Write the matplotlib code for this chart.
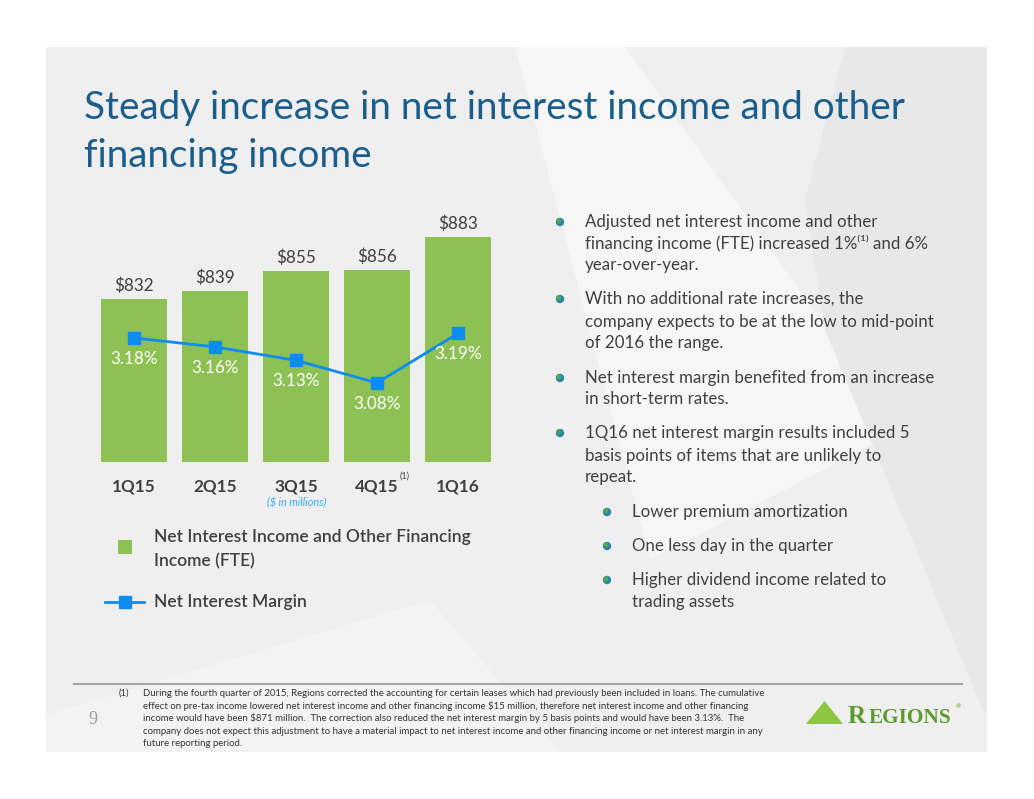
import matplotlib
matplotlib.use('Agg')
import matplotlib.pyplot as plt
from matplotlib.patches import Rectangle, Polygon, Circle
from matplotlib.lines import Line2D

plt.rcParams['font.family'] = ['Lato', 'DejaVu Sans']

# data
quarters = ['1Q15', '2Q15', '3Q15', '4Q15', '1Q16']
nii = [832, 839, 855, 856, 883]          # $ millions
nim = [3.18, 3.16, 3.13, 3.08, 3.19]     # %

W, H = 1034, 799
GREEN = '#8DC153'
BLUE = '#0D8DF2'
GREY_TXT = '#404040'
TITLE_C = '#1B5E8C'

fig = plt.figure(figsize=(W / 100, H / 100), dpi=100)
fig.patch.set_facecolor('white')

# background / decoration layer in pixel coords
bg = fig.add_axes([0, 0, 1, 1], zorder=0)
bg.set_xlim(0, W)
bg.set_ylim(H, 0)
bg.axis('off')

bg.add_patch(Rectangle((46, 47), 941, 705, color='#efefef', lw=0))
bg.add_patch(Polygon([(515, 47), (625, 47), (900, 430), (650, 560)], color='#f6f6f6', lw=0))
bg.add_patch(Polygon([(845, 47), (987, 47), (987, 720), (825, 330), (805, 200)], color='#e8e8e8', lw=0))
bg.add_patch(Polygon([(46, 752), (46, 715), (430, 600), (560, 752)], color='#f3f3f3', lw=0))

# title
bg.text(84, 119, 'Steady increase in net interest income and other', fontsize=27.8,
        color=TITLE_C, va='baseline', ha='left')
bg.text(84, 167, 'financing income', fontsize=27.8, color=TITLE_C, va='baseline', ha='left')

# chart
ax = fig.add_axes([93.5 / W, 1 - 462 / H, 405 / W, 262 / H], zorder=2)
ax.set_facecolor('none')
x = list(range(len(quarters)))
ax.bar(x, nii, width=0.815, color=GREEN, zorder=2)
ax.set_xlim(-0.5, 4.5)
ax.set_ylim(698, 913.5)
for i, v in enumerate(nii):
    ax.annotate('$' + str(v), (i, v), xytext=(0, 9.5), textcoords='offset points',
                ha='center', va='center', fontsize=12.3, color=GREY_TXT)
ax.set_xticks(x)
ax.set_xticklabels(quarters, fontsize=12.3, fontweight='bold', color=GREY_TXT)
ax.tick_params(axis='x', length=0, pad=12)
ax.set_yticks([])
for s in ax.spines.values():
    s.set_visible(False)

ax2 = ax.twinx()
ax2.plot(x, nim, color=BLUE, lw=2, marker='s', ms=9, mec=BLUE, mfc=BLUE, zorder=3)
ax2.set_ylim(2.904, 3.4867)
ax2.set_yticks([])
for s in ax2.spines.values():
    s.set_visible(False)
for i, v in enumerate(nim):
    ax2.annotate('%.2f%%' % v, (i, v), xytext=(0, -15), textcoords='offset points',
                 ha='center', va='center', fontsize=12.3, color='white')

bg.text(405, 476, '(1)', fontsize=6.5, color=GREY_TXT, ha='center', va='center')
bg.text(297, 503, '($ in millions)', fontsize=7.8, style='italic', color='#3AAAF0',
        ha='center', va='center')

# legend
bg.add_patch(Rectangle((118, 540), 14, 14, color=GREEN, lw=0))
bg.text(154, 537, 'Net Interest Income and Other Financing', fontsize=12.5,
        fontweight='semibold', color=GREY_TXT, va='center')
bg.text(154, 561, 'Income (FTE)', fontsize=12.5, fontweight='semibold', color=GREY_TXT, va='center')
bg.add_line(Line2D([105, 125, 144], [602, 602, 602], color=BLUE, lw=2, marker='s', ms=9,
                   markevery=[1], mec=BLUE))
bg.text(154, 602, 'Net Interest Margin', fontsize=12.5, fontweight='semibold',
        color=GREY_TXT, va='center')

# bullets
bullets = [
    (560, 585, [(222, 'Adjusted net interest income and other'),
                (243, 'financing income (FTE) increased 1%\u207d\u00b9\u207e and 6%'),
                (265, 'year-over-year.')]),
    (560, 585, [(299, 'With no additional rate increases, the'),
                (322, 'company expects to be at the low to mid-point'),
                (343, 'of 2016 the range.')]),
    (560, 585, [(378, 'Net interest margin benefited from an increase'),
                (399, 'in short-term rates.')]),
    (560, 585, [(433, '1Q16 net interest margin results included 5'),
                (456, 'basis points of items that are unlikely to'),
                (477, 'repeat.')]),
    (607, 632, [(512, 'Lower premium amortization')]),
    (607, 632, [(546, 'One less day in the quarter')]),
    (607, 632, [(580, 'Higher dividend income related to'),
                (602, 'trading assets')]),
]
for dx, tx, lines in bullets:
    y0 = lines[0][0]
    bg.add_patch(Circle((dx, y0), 4.2, color='#2A86A8', lw=0))
    bg.add_patch(Circle((dx - 1.2, y0 - 1.2), 2.6, color='#4FA35A', lw=0))
    for yy, t in lines:
        bg.text(tx, yy, t, fontsize=12.2, color=GREY_TXT, va='center', ha='left')

# footnote
bg.add_line(Line2D([74, 962], [684, 684], color='#a6a6a6', lw=1.5))
foot = [
    'During the fourth quarter of 2015, Regions corrected the accounting for certain leases which had previously been included in loans. The cumulative',
    'effect on pre-tax income lowered net interest income and other financing income $15 million, therefore net interest income and other financing',
    'income would have been $871 million.  The correction also reduced the net interest margin by 5 basis points and would have been 3.13%.  The',
    'company does not expect this adjustment to have a material impact to net interest income and other financing income or net interest margin in any',
    'future reporting period.',
]
bg.text(119, 693, '(1)', fontsize=6.9, color='#333333', va='center')
for k, t in enumerate(foot):
    bg.text(143, 693 + k * 12.7, t, fontsize=6.9, color='#333333', va='center')

bg.text(88, 720, '9', fontsize=13, family='Liberation Serif', color='#9a9a9a', va='center')

# logo
bg.add_patch(Polygon([(806, 724), (824.5, 701), (843, 724)], color='#8DC63F', lw=0))
bg.text(848, 723, 'R', fontsize=18, family='Liberation Serif', fontweight='bold',
        color='#5E9B2E', va='baseline')
bg.text(869, 723, 'EGIONS', fontsize=15.3, family='Liberation Serif', fontweight='bold',
        color='#5E9B2E', va='baseline')
bg.text(956, 707, '\u00ae', fontsize=4.5, color='#5E9B2E', va='center')

fig.savefig('out.png', dpi=100)
